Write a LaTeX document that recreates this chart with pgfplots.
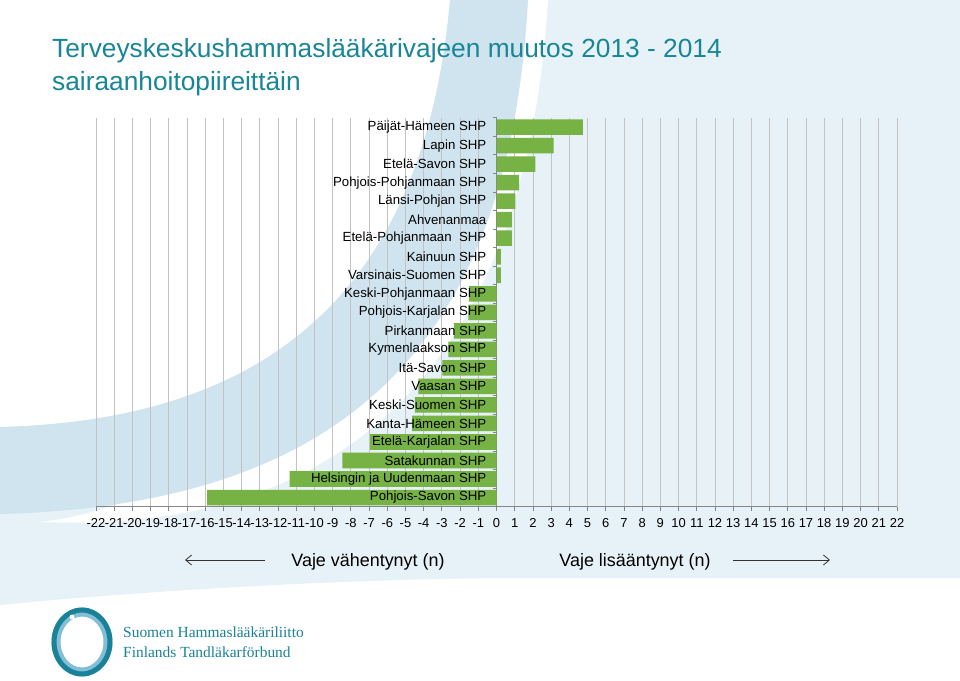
\documentclass[border=0pt]{standalone}
\usepackage{fontspec}
\setmainfont{Liberation Sans}
\newfontfamily\seriffont{Liberation Serif}
\usepackage{pgfplots}
\pgfplotsset{compat=1.18}
\usetikzlibrary{arrows.meta}
\definecolor{bargreen}{RGB}{118,178,68}
\definecolor{bglight}{RGB}{231,242,248}
\definecolor{bgdark}{RGB}{208,228,239}
\definecolor{titleteal}{RGB}{24,134,150}
\definecolor{gridgray}{RGB}{195,195,195}
\definecolor{axisgray}{RGB}{134,134,134}
\definecolor{logoteal}{RGB}{26,130,152}
\definecolor{logolight}{RGB}{130,190,214}

\begin{document}
\begin{tikzpicture}
\useasboundingbox (0,0) rectangle (960bp,-681bp);
\begin{scope}[x=1bp,y=-1bp]
\fill[white] (0,0) rectangle (960,681);
\fill[bglight] (0,0) -- (960,0) -- (960,578) -- (500,578) .. controls (300,580) and (100,595) .. (0,605) -- cycle;
\fill[white] (0,0) -- (450,0) .. controls (425,280) and (280,420) .. (0,427) -- cycle;
\fill[white] (526,0) -- (548,0) .. controls (525,380) and (330,535) .. (40,522) .. controls (200,505) and (470,330) .. (526,0) -- cycle;
\fill[bgdark] (450,0) .. controls (425,280) and (280,420) .. (0,427) -- (0,514) .. controls (360,505) and (510,330) .. (528,0) -- cycle;
% title
\node[anchor=base west, text=titleteal, font=\fontsize{26.4}{30}\selectfont, inner sep=0pt] at (52,57) {Terveyskeskushammaslääkärivajeen muutos 2013 - 2014};
\node[anchor=base west, text=titleteal, font=\fontsize{26.4}{30}\selectfont, inner sep=0pt] at (52,90) {sairaanhoitopiireittäin};
% bottom captions
\node[anchor=base, font=\fontsize{18}{20}\selectfont, inner sep=0pt] at (368,566) {Vaje vähentynyt (n)};
\node[anchor=base, font=\fontsize{18}{20}\selectfont, inner sep=0pt] at (635,566) {Vaje lisääntynyt (n)};
\draw[-{Straight Barb[length=6bp,width=10bp]}, line width=0.8bp, black!80] (265,560) -- (185,560);
\draw[-{Straight Barb[length=6bp,width=10bp]}, line width=0.8bp, black!80] (733,560) -- (830,560);
% logo
\draw[logolight, line width=9bp] (82,642) ellipse (26 and 30);
\draw[logoteal, line width=5bp] (82,642) ellipse (28 and 32);
\fill[white] (72,617) circle (2.5);
\node[anchor=base west, text=logoteal, font=\seriffont\fontsize{15.5}{18}\selectfont, inner sep=0pt] at (123,637) {Suomen Hammaslääkäriliitto};
\node[anchor=base west, text=logoteal, font=\seriffont\fontsize{15.5}{18}\selectfont, inner sep=0pt] at (123,657) {Finlands Tandläkarförbund};
\end{scope}

\begin{axis}[
  at={(96bp,-506.8bp)}, anchor=south west,
  scale only axis, width=801bp, height=389bp,
  xmin=-22, xmax=22, ymin=0.5, ymax=21.5,
  axis x line*=bottom, axis y line*=center,
  axis line style={axisgray, line width=0.8bp},
  hide obscured x ticks=false, hide obscured y ticks=false,
  xtick={-22,...,22},
  xticklabel={\pgfmathparse{int(\tick)}\pgfmathresult},
  xtick align=outside, ytick align=outside,
  major tick length=4bp,
  tick style={axisgray, line width=0.8bp},
  xmajorgrids, grid style={gridgray, line width=0.8bp},
  x tick label style={font=\fontsize{13}{15}\selectfont, inner sep=0pt, anchor=base, yshift=-16.5bp},
  ytick={0.5,1.5,...,21.5}, yticklabels={\empty},
]
\addplot[xbar, bar width=0.84, fill=bargreen, draw=none] coordinates {
  (-15.9,1) (-11.36,2) (-8.46,3) (-6.94,4) (-4.63,5) (-4.49,6) (-4.29,7)
  (-2.97,8) (-2.65,9) (-2.34,10) (-1.55,11) (-1.5,12) (0.24,13) (0.24,14)
  (0.84,15) (0.84,16) (1.04,17) (1.24,18) (2.14,19) (3.14,20) (4.75,21)
};
\end{axis}
% overlay axis carrying the category labels, drawn above the bars
\begin{axis}[
  at={(96bp,-506.8bp)}, anchor=south west,
  scale only axis, width=801bp, height=389bp,
  xmin=-22, xmax=22, ymin=0.5, ymax=21.5,
  axis x line=none, axis y line*=center,
  y axis line style={draw=none},
  hide obscured y ticks=false,
  ytick={1,...,21}, major tick length=0pt,
  yticklabels={Pohjois-Savon SHP,Helsingin ja Uudenmaan SHP,Satakunnan SHP,Etelä-Karjalan SHP,Kanta-Hämeen SHP,Keski-Suomen SHP,Vaasan SHP,Itä-Savon SHP,Kymenlaakson SHP,Pirkanmaan SHP,Pohjois-Karjalan SHP,Keski-Pohjanmaan SHP,Varsinais-Suomen SHP,Kainuun SHP,Etelä-Pohjanmaan\ \ SHP,Ahvenanmaa,Länsi-Pohjan SHP,Pohjois-Pohjanmaan SHP,Etelä-Savon SHP,Lapin SHP,Päijät-Hämeen SHP},
  yticklabel style={font=\fontsize{13.3}{15}\selectfont, anchor=east, inner sep=0pt, xshift=-10bp},
]
\end{axis}
\end{tikzpicture}
\end{document}
